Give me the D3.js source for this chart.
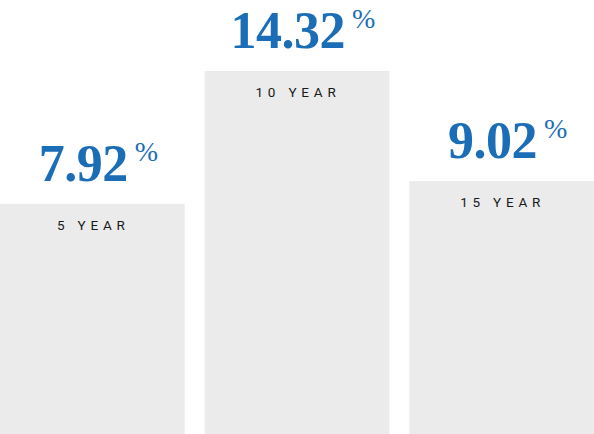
<!DOCTYPE html>
<html>
<head>
<meta charset="utf-8">
<script src="https://cdn.jsdelivr.net/npm/d3@7"></script>
<style>
  html, body { margin: 0; padding: 0; background: #ffffff; }
  svg { display: block; }
</style>
</head>
<body>
<svg id="chart" width="594" height="434"></svg>
<script>
// ---- data ----
const categories = ["5 YEAR", "10 YEAR", "15 YEAR"];
const returns = [7.92, 14.32, 9.02];
const valueLabels = ["7.92", "14.32", "9.02"];
const percentSymbol = "%";

// ---- layout ----
const W = 594, H = 434;
const topMargin = 71;
const svg = d3.select("#chart");

const x = d3.scaleBand()
  .domain(categories)
  .range([0, W])
  .paddingInner(0.0976)
  .paddingOuter(0);

const y = d3.scaleLinear()
  .domain([-3.17, d3.max(returns)])
  .range([H, topMargin]);

const rows = categories.map((c, i) => ({ cat: c, v: returns[i], label: valueLabels[i] }));

const g = svg.selectAll("g.bar").data(rows).join("g").attr("class", "bar");

g.append("rect")
  .attr("x", d => x(d.cat))
  .attr("y", d => y(d.v))
  .attr("width", x.bandwidth())
  .attr("height", d => H - y(d.v))
  .attr("fill", "#ebebeb");

// category label inside bar
g.append("text")
  .attr("x", d => x(d.cat) + x.bandwidth() / 2 + 1)
  .attr("y", d => y(d.v) + 26)
  .attr("text-anchor", "middle")
  .attr("font-family", "Roboto, 'Open Sans', sans-serif")
  .attr("font-weight", 400)
  .attr("font-size", 13.5)
  .attr("letter-spacing", 4.8)
  .attr("fill", "#1a1a1a")
  .text(d => d.cat);

// value labels above bar
g.each(function(d) {
  const sel = d3.select(this);
  const baseline = y(d.v) - 23;
  const num = sel.append("text")
    .attr("y", baseline)
    .attr("font-family", "'Liberation Serif', 'Times New Roman', serif")
    .attr("font-weight", 700)
    .attr("font-size", 52)
    .attr("letter-spacing", -0.5)
    .attr("fill", "#1b6eb6")
    .text(d.label);
  const pct = sel.append("text")
    .attr("y", baseline - 20)
    .attr("font-family", "'Liberation Serif', 'Times New Roman', serif")
    .attr("font-weight", 400)
    .attr("font-size", 28)
    .attr("fill", "#1b6eb6")
    .text(percentSymbol);
  const wN = num.node().getComputedTextLength();
  const wP = pct.node().getComputedTextLength();
  const gap = 7;
  const cx = x(d.cat) + x.bandwidth() / 2 + 6;
  const start = cx - (wN + gap + wP) / 2;
  num.attr("x", start);
  pct.attr("x", start + wN + gap);
});
</script>
</body>
</html>
